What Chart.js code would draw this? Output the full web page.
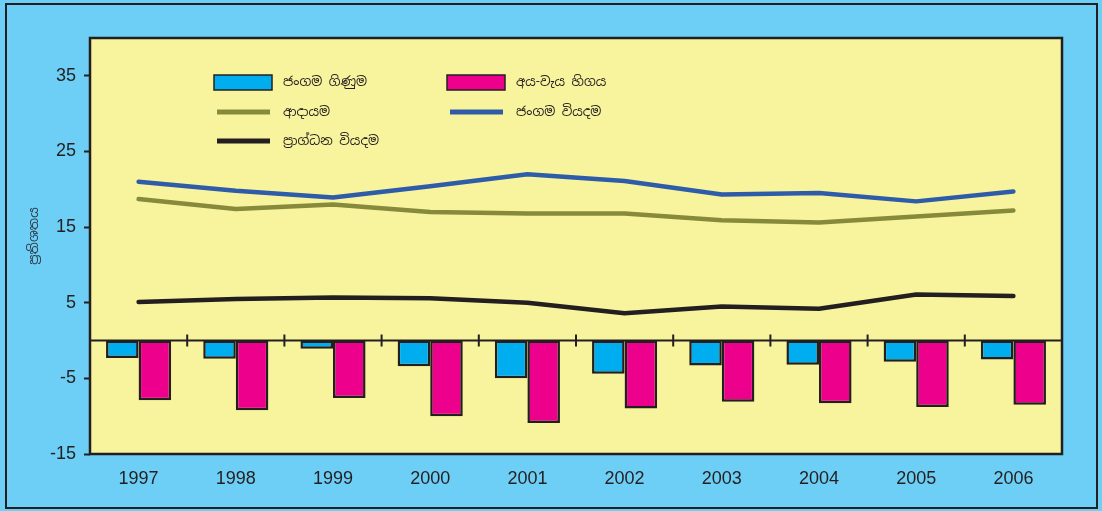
<!DOCTYPE html>
<html lang="si">
<head>
    <meta charset="UTF-8">
    <title>ජංගම ගිණුම</title>
    <script src="https://cdn.jsdelivr.net/npm/chart.js"></script>
    <style>
        body { margin: 0; background: #ffffff; }
        #wrap { width: 1102px; height: 511px; }
    </style>
</head>
<body>
    <div id="wrap"><canvas id="balanceChart" width="1102" height="511"></canvas></div>

    <script>
        const years = ['1997', '1998', '1999', '2000', '2001', '2002', '2003', '2004', '2005', '2006'];
        const currentAccount = [-2.3, -2.4, -1.1, -3.4, -5.0, -4.4, -3.3, -3.2, -2.8, -2.5];
        const budgetDeficit = [-7.9, -9.2, -7.6, -10.0, -10.9, -9.0, -8.1, -8.3, -8.8, -8.5];
        const revenue = [18.7, 17.4, 18.0, 17.0, 16.8, 16.8, 15.9, 15.6, 16.4, 17.2];
        const currentSpending = [21.0, 19.8, 18.9, 20.4, 22.0, 21.1, 19.3, 19.5, 18.4, 19.7];
        const capitalSpending = [5.1, 5.5, 5.7, 5.6, 5.0, 3.6, 4.5, 4.2, 6.1, 5.9];
        const yTicks = [-15, -5, 5, 15, 25, 35];
        const yTitle = 'ප්‍රතිශතය';

        const dark = '#231f20';
        const sinhalaFont = '"Noto Sans Sinhala", "Noto Sans", sans-serif';

        // blue frame round the whole picture, yellow plot area
        const framePlugin = {
            id: 'frame',
            beforeDraw(chart) {
                const ctx = chart.ctx;
                const a = chart.chartArea;
                ctx.save();
                ctx.fillStyle = '#6dcff6';
                ctx.fillRect(0, 0, chart.width, chart.height);
                ctx.strokeStyle = dark;
                ctx.lineWidth = 2;
                ctx.strokeRect(6, 4, 1091, 504);
                ctx.fillStyle = '#f8f49d';
                ctx.fillRect(a.left, a.top, a.right - a.left, a.bottom - a.top);
                // y axis title
                ctx.translate(34, 236);
                ctx.rotate(-Math.PI / 2);
                ctx.fillStyle = '#2e3a46';
                ctx.font = '13px ' + sinhalaFont;
                ctx.textAlign = 'center';
                ctx.textBaseline = 'middle';
                ctx.fillText(yTitle, 0, 0);
                ctx.restore();
            },
            beforeDatasetsDraw(chart) {
                const ctx = chart.ctx;
                const a = chart.chartArea;
                const x = chart.scales.x;
                const y0 = chart.scales.y.getPixelForValue(0);
                ctx.save();
                ctx.strokeStyle = dark;
                ctx.lineWidth = 2;
                ctx.beginPath();
                ctx.moveTo(a.left, y0);
                ctx.lineTo(a.right, y0);
                for (let i = 0; i < years.length - 1; i++) {
                    const px = (x.getPixelForValue(i) + x.getPixelForValue(i + 1)) / 2;
                    ctx.moveTo(px, y0 - 6);
                    ctx.lineTo(px, y0 + 6);
                }
                ctx.stroke();
                ctx.restore();
            },
            afterDraw(chart) {
                const ctx = chart.ctx;
                const a = chart.chartArea;
                ctx.save();
                ctx.strokeStyle = dark;
                ctx.lineWidth = 2.5;
                ctx.strokeRect(a.left, a.top, a.right - a.left, a.bottom - a.top);
                ctx.restore();
            }
        };

        // legend laid out in the top left of the plot area
        const legendPlugin = {
            id: 'insideLegend',
            afterDatasetsDraw(chart) {
                const ctx = chart.ctx;
                const spots = [[214, 82], [447, 82], [214, 112], [447, 112], [214, 141]];
                ctx.save();
                ctx.font = '13px ' + sinhalaFont;
                ctx.textBaseline = 'middle';
                chart.data.datasets.forEach((ds, i) => {
                    const [lx, ly] = spots[i];
                    if (ds.type === 'line') {
                        ctx.strokeStyle = ds.borderColor;
                        ctx.lineWidth = 5;
                        ctx.beginPath();
                        ctx.moveTo(lx + 3, ly);
                        ctx.lineTo(lx + 56, ly);
                        ctx.stroke();
                    } else {
                        ctx.fillStyle = ds.backgroundColor;
                        ctx.fillRect(lx, ly - 7, 58, 15);
                        ctx.strokeStyle = dark;
                        ctx.lineWidth = 1.5;
                        ctx.strokeRect(lx, ly - 7, 58, 15);
                    }
                    ctx.fillStyle = dark;
                    ctx.fillText(ds.label, lx + 69, ly);
                });
                ctx.restore();
            }
        };

        function lineSet(label, data, color) {
            return {
                type: 'line',
                label: label,
                data: data,
                borderColor: color,
                borderWidth: 4.5,
                borderCapStyle: 'round',
                borderJoinStyle: 'round',
                pointRadius: 0,
                tension: 0,
                order: 0
            };
        }

        function barSet(label, data, color) {
            return {
                type: 'bar',
                label: label,
                data: data,
                backgroundColor: color,
                borderColor: dark,
                borderWidth: 2.5,
                borderSkipped: false,
                categoryPercentage: 0.67,
                barPercentage: 1.0,
                order: 1
            };
        }

        const ctx = document.getElementById('balanceChart').getContext('2d');
        new Chart(ctx, {
            data: {
                labels: years,
                datasets: [
                    barSet('ජංගම ගිණුම', currentAccount, '#00aeef'),
                    barSet('අය-වැය හිගය', budgetDeficit, '#ec008c'),
                    lineSet('ආදායම', revenue, '#878a3a'),
                    lineSet('ජංගම වියදම', currentSpending, '#2e5ca8'),
                    lineSet('ප්‍රාග්ධන වියදම', capitalSpending, dark)
                ]
            },
            options: {
                responsive: false,
                animation: false,
                layout: { padding: { top: 38, right: 40, left: 0, bottom: 0 } },
                plugins: {
                    legend: { display: false },
                    tooltip: { enabled: false }
                },
                scales: {
                    x: {
                        grid: { display: false },
                        border: { display: false },
                        ticks: {
                            color: dark,
                            font: { family: 'Liberation Sans, Arial', size: 18 },
                            padding: 6
                        },
                        afterFit(scale) { scale.height = 57; }
                    },
                    y: {
                        min: -15,
                        max: 40,
                        afterBuildTicks(scale) {
                            scale.ticks = yTicks.map(v => ({ value: v }));
                        },
                        grid: {
                            drawOnChartArea: false,
                            drawTicks: true,
                            tickLength: 6,
                            tickWidth: 2,
                            color: dark
                        },
                        border: { display: false },
                        ticks: {
                            color: dark,
                            font: { family: 'Liberation Sans, Arial', size: 18 },
                            padding: 8
                        },
                        afterFit(scale) { scale.width = 90; }
                    }
                }
            },
            plugins: [framePlugin, legendPlugin]
        });
    </script>
</body>
</html>
